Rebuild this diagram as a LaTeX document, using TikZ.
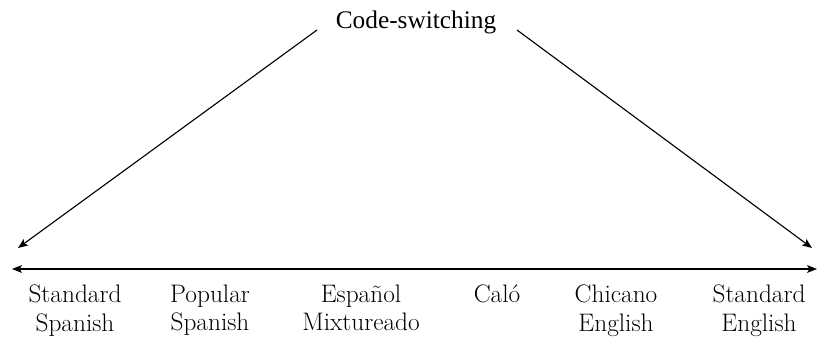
\documentclass[tikz,border=0pt]{standalone}
\usepackage{fontspec}
\newfontfamily\timesfont{Liberation Serif}
\usetikzlibrary{arrows.meta}
\begin{document}
\begin{tikzpicture}[x=0.025cm,y={(0cm,-0.025cm)},
  arr/.style={line width=0.8pt,-{Stealth[length=7pt,width=5.5pt,inset=1.5pt]}},
  lbl/.style={anchor=north,inner sep=0pt,align=center,font=\fontsize{18}{20}\selectfont}]
\useasboundingbox (0,0) rectangle (819,338);
%line height of labels
\newcommand*{\Top}{285}
%heading
\node[font=\timesfont\fontsize{18}{20}\selectfont,inner sep=0pt] (cs) at (416,22) {Code-switching};
\coordinate (csl) at (317,30);
\coordinate (csr) at (517,30);
%ends of the continuum
\coordinate (axl) at (12,269);
\coordinate (axr) at (817,269);
\coordinate (tipl) at (18,248);
\coordinate (tipr) at (812,248);
%varieties
\node[lbl] (stsp) at (75,\Top) {Standard\\Spanish};
\node[lbl] (posp) at (210,\Top) {Popular\\Spanish};
\node[lbl] (esmx) at (361,\Top) {Español\\Mixtureado};
\node[lbl] (calo) at (497,\Top) {Caló};
\node[lbl] (chen) at (616,\Top) {Chicano\\English};
\node[lbl] (sten) at (759,\Top) {Standard\\English};
%arrows
\draw[arr] (csl) -- (tipl);
\draw[arr] (csr) -- (tipr);
\draw[arr,{Stealth[length=7pt,width=5.5pt,inset=1.5pt]}-{Stealth[length=7pt,width=5.5pt,inset=1.5pt]}] (axl) -- (axr);
\end{tikzpicture}
\end{document}
